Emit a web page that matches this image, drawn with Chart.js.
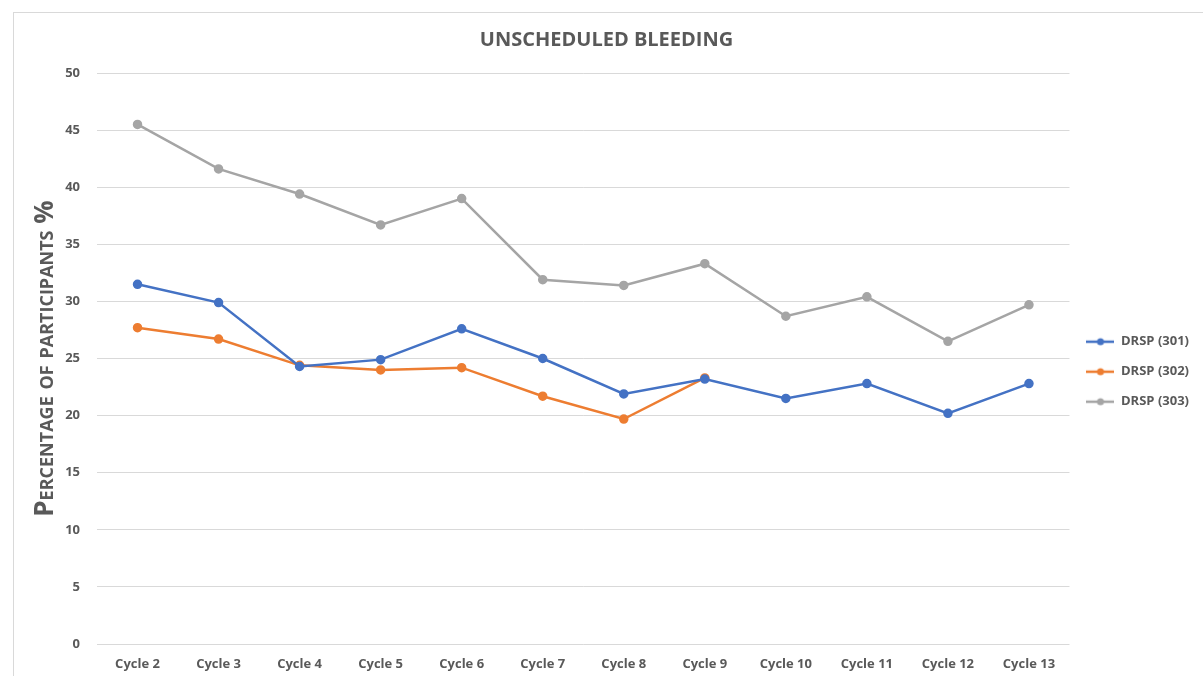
<!DOCTYPE html>
<html>
<head>
<meta charset="utf-8">
<script src="https://cdn.jsdelivr.net/npm/chart.js@4.4.1/dist/chart.umd.min.js"></script>
<style>
    html, body { margin: 0; padding: 0; background: #ffffff; }
    body { width: 1203px; height: 676px; overflow: hidden; position: relative; }
    .frame {
        position: absolute; left: 13px; top: 12px;
        width: 1200px; height: 680px;
        border-left: 1px solid #d9d9d9; border-top: 1px solid #d9d9d9;
    }
    .chart-box { position: absolute; left: 0; top: 0; width: 1189px; height: 663px; }
</style>
</head>
<body>
<div class="frame">
    <div class="chart-box"><canvas id="bleedingChart"></canvas></div>
</div>
<script>
    // Data
    const cycles = ['Cycle 2', 'Cycle 3', 'Cycle 4', 'Cycle 5', 'Cycle 6', 'Cycle 7',
                    'Cycle 8', 'Cycle 9', 'Cycle 10', 'Cycle 11', 'Cycle 12', 'Cycle 13'];
    const drsp301 = [31.5, 29.9, 24.3, 24.9, 27.6, 25.0, 21.9, 23.2, 21.5, 22.8, 20.2, 22.8];
    const drsp302 = [27.7, 26.7, 24.4, 24.0, 24.2, 21.7, 19.7, 23.3, null, null, null, null];
    const drsp303 = [45.5, 41.6, 39.4, 36.7, 39.0, 31.9, 31.4, 33.3, 28.7, 30.4, 26.5, 29.7];
    const seriesNames = ['DRSP (301)', 'DRSP (302)', 'DRSP (303)'];
    const seriesColors = ['#4472C4', '#ED7D31', '#A5A5A5'];
    const yMin = 0, yMax = 50, yStep = 5;

    const textColor = '#595959';
    const fontFamily = "'Open Sans', 'Liberation Sans', sans-serif";

    // legend marker: short line with a dot in the middle
    function legendMarker(color) {
        const c = document.createElement('canvas');
        c.width = 28; c.height = 10;
        const g = c.getContext('2d');
        g.strokeStyle = color;
        g.lineWidth = 2.5;
        g.beginPath(); g.moveTo(0, 5); g.lineTo(28, 5); g.stroke();
        g.fillStyle = color;
        g.beginPath(); g.arc(14, 5, 3.5, 0, Math.PI * 2); g.fill();
        return c;
    }

    const makeSet = (label, data, color) => ({
        label: label,
        data: data,
        borderColor: color,
        backgroundColor: color,
        borderWidth: 2.5,
        pointRadius: 3.5,
        pointHoverRadius: 4,
        pointBackgroundColor: color,
        pointBorderColor: color,
        tension: 0,
        spanGaps: false
    });

    const ctx = document.getElementById('bleedingChart').getContext('2d');
    const chart = new Chart(ctx, {
        type: 'line',
        data: {
            labels: cycles,
            datasets: [
                makeSet(seriesNames[0], drsp301, seriesColors[0]),
                makeSet(seriesNames[1], drsp302, seriesColors[1]),
                makeSet(seriesNames[2], drsp303, seriesColors[2])
            ]
        },
        options: {
            responsive: true,
            maintainAspectRatio: false,
            animation: false,
            layout: { padding: { left: 0, right: 4, top: 0, bottom: 0 } },
            plugins: {
                title: {
                    display: true,
                    text: 'UNSCHEDULED BLEEDING',
                    color: textColor,
                    font: { family: fontFamily, size: 20, weight: 'bold' },
                    padding: { top: 15, bottom: 21 }
                },
                legend: {
                    position: 'right',
                    // empty title only to push the items a little lower
                    title: { display: true, text: '', padding: { top: 0, bottom: 40 } },
                    labels: {
                        color: textColor,
                        font: { family: fontFamily, size: 13, weight: 'bold' },
                        usePointStyle: true,
                        pointStyleWidth: 28,
                        padding: 17,
                        generateLabels: function(chart) {
                            const items = Chart.defaults.plugins.legend.labels.generateLabels(chart);
                            items.forEach((it, i) => { it.pointStyle = legendMarker(seriesColors[i]); });
                            return items;
                        }
                    }
                },
                tooltip: { enabled: false }
            },
            scales: {
                x: {
                    offset: true,
                    grid: { display: false, drawTicks: false },
                    border: { display: false },
                    ticks: {
                        color: textColor,
                        font: { family: fontFamily, size: 13, weight: 'bold' },
                        padding: 12,
                        maxRotation: 0,
                        autoSkip: false
                    },
                    afterFit: function(scale) { scale.height = 32; }
                },
                y: {
                    min: yMin,
                    max: yMax,
                    grid: { color: '#d9d9d9', lineWidth: 1, drawTicks: false },
                    border: { display: false },
                    ticks: {
                        stepSize: yStep,
                        color: textColor,
                        font: { family: fontFamily, size: 13, weight: 'bold' },
                        padding: 17
                    },
                    title: {
                        display: true,
                        text: 'Percentage of participants %',
                        color: textColor,
                        // small-caps slipped in ahead of the weight in the canvas font string
                        font: { family: fontFamily, size: 26, weight: 'small-caps bold' },
                        padding: { top: 16, bottom: 0 }
                    },
                    afterFit: function(scale) { scale.width = 83; }
                }
            }
        }
    });
</script>
</body>
</html>
